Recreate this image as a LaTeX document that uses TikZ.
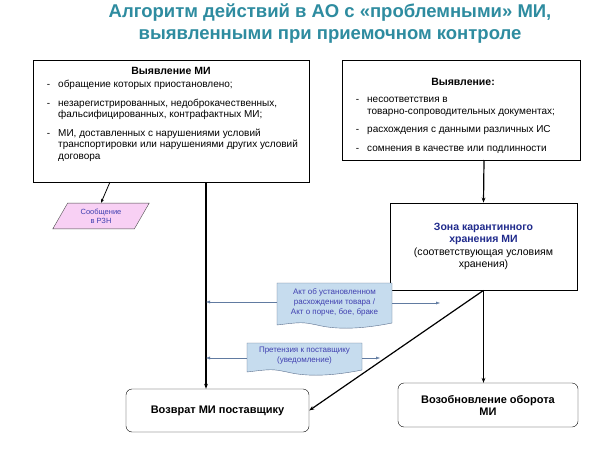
\documentclass[tikz,border=0pt]{standalone}
\usepackage{fontspec}
\setmainfont{Liberation Sans}
\usetikzlibrary{arrows.meta,positioning,shapes.geometric,calc}
\definecolor{TitleTeal}{HTML}{2E8CA0}
\definecolor{ZoneBlue}{HTML}{1F2A8C}
\definecolor{DocFill}{HTML}{C6DCEE}
\definecolor{DocLine}{HTML}{5A6E8C}
\definecolor{NoteFill}{HTML}{F8D0F4}
\definecolor{NoteText}{HTML}{4040B0}
\definecolor{ArrowBlue}{HTML}{3A5A8A}

\tikzset{
 frame/.style={draw, thick, fill=white},
 endbox/.style={draw, rounded corners=6pt, fill=white, font=\bfseries\fontsize{11}{12}\selectfont, align=center},
 flow/.style={very thick, -{Stealth[length=5pt]}},
 docline/.style={thin, draw=ArrowBlue!80, -{Latex[length=4pt]}},
 doctext/.style={font=\fontsize{8}{10}\selectfont, text=NoteText, align=center},
}
\newcommand{\docshape}[4]{% left, top, right, bottom (pixel coords)
 \filldraw[fill=DocFill, draw=DocLine, thin] (#1,-#2) -- (#3,-#2) -- (#3,{-#4+4})
  .. controls ({#3-30},{-#4-2}) and ({#1+60},{-#4-3}) .. ({#1+40},{-#4+2})
  .. controls ({#1+25},{-#4+5}) .. (#1,{-#4+2}) -- cycle;}
\newcommand{\dashlist}[1]{\begin{itemize}\setlength{\topsep}{0pt}\setlength{\itemsep}{3pt}
  \setlength{\parsep}{0pt}\setlength{\leftmargin}{16pt}\setlength{\labelwidth}{8pt}
  \setlength{\labelsep}{8pt}#1\end{itemize}}

\begin{document}
\begin{tikzpicture}[x=1pt, y=1pt]
 \useasboundingbox[fill=white] (0,0) rectangle (605,-452);

 % title
 \node (title) [font=\bfseries\fontsize{18.5}{22}\selectfont, text=TitleTeal, align=center]
  at (330,-24) {Алгоритм действий в АО с «проблемными» МИ,\\выявленными при приемочном контроле};

 % detection boxes
 \draw[frame] (33,-60) rectangle (309,-182);
 \coordinate (leftbot) at (206,-182);
 \coordinate (leftnote) at (110,-182);
 \node (lefthead) [font=\bfseries\fontsize{10.5}{12}\selectfont] at (171,-71) {Выявление МИ};
 \node (leftlist) [anchor=north west, inner sep=0pt, font=\fontsize{10}{11.5}\selectfont]
  at (33,-80) {%
  \begin{minipage}{270pt}\raggedright
  \dashlist{
  \item[-] обращение которых приостановлено;
  \item[-] незарегистрированных, недоброкачественных, фальсифицированных, контрафактных МИ;
  \item[-] МИ, доставленных с нарушениями условий транспортировки или нарушениями других условий договора}
  \end{minipage}};

 \draw[frame] (342,-60) rectangle (580,-160);
 \coordinate (rightbot) at (484,-160);
 \node (righthead) [font=\bfseries\fontsize{10.5}{12}\selectfont] at (463,-82) {Выявление:};
 \node (rightlist) [anchor=north west, inner sep=0pt, font=\fontsize{10}{11.5}\selectfont]
  at (342,-97) {%
  \begin{minipage}{234pt}\raggedright
  \dashlist{
  \item[-] несоответствия в товарно-сопроводительных документах;
  \item[-] расхождения с данными различных ИС
  \item[-] сомнения в качестве или подлинности}
  \end{minipage}};

 % quarantine zone
 \node (zone) [frame, minimum width=187pt, minimum height=87pt, align=center,
  font=\fontsize{10.5}{12.5}\selectfont] at (483.5,-246.5)
  {\textcolor{ZoneBlue}{\bfseries Зона карантинного}\\\textcolor{ZoneBlue}{\bfseries хранения МИ}\\(соответствующая условиям\\хранения)};

 % note to RZN
 \node (rzn) [trapezium, trapezium left angle=60, trapezium right angle=120, draw=black!70,
  fill=NoteFill, minimum width=97pt, minimum height=24pt, inner sep=1pt,
  font=\fontsize{7.5}{9}\selectfont, text=NoteText, align=center] at (101,-216)
  {Сообщение\\в РЗН};

 % outcomes
 \node (return) [endbox, minimum width=183pt, minimum height=43pt] at (217.5,-410.5)
  {Возврат МИ поставщику};
 \node (resume) [endbox, minimum width=180pt, minimum height=44pt] at (488,-405)
  {Возобновление оборота\\МИ};

 % documents
 \docshape{277}{283}{392}{327}
 \node (act) [doctext] at (334.5,-302) {Акт об установленном\\расхождении товара /\\Акт о порче, бое, браке};
 \docshape{247}{343}{362}{374}
 \node (claim) [doctext] at (304.5,-356) {Претензия к поставщику\\(уведомление)};

 % flows
 \draw[flow] (rightbot) -- (zone.north);
 \draw[thick, -{Stealth[length=4pt]}] (leftnote) -- (rzn.north);
 \draw[flow] (leftbot) -- (leftbot |- return.north);
 \draw[flow] (zone.south) -- (zone.south |- resume.north);
 \draw[flow] (zone.south) -- (return.east);

 \coordinate (actL) at (206,-302);
 \coordinate (actR) at (440,-303);
 \coordinate (claimL) at (206,-358);
 \coordinate (claimR) at (380,-358);
 \draw[docline] (277,-302) -- (actL);
 \draw[docline] (392,-303) -- (actR);
 \draw[docline] (247,-358) -- (claimL);
 \draw[docline] (362,-358) -- (claimR);
\end{tikzpicture}
\end{document}
